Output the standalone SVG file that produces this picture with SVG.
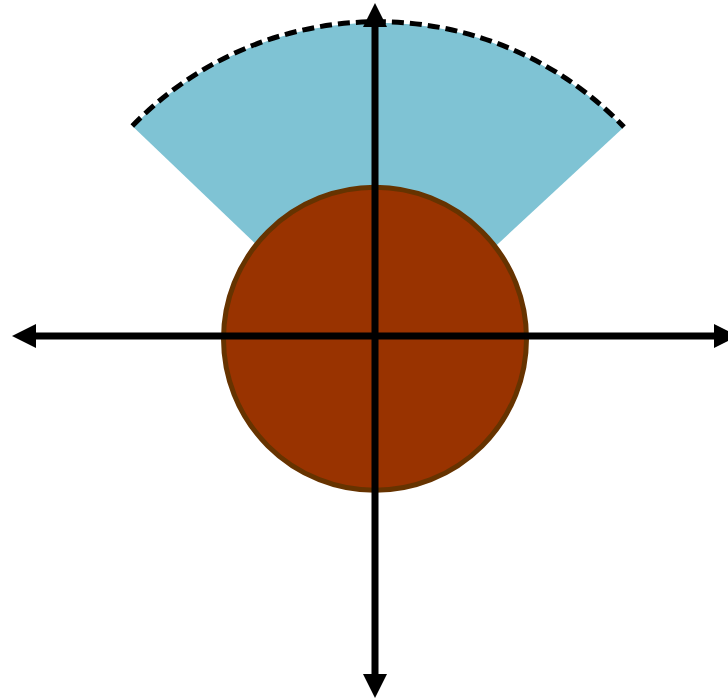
<svg xmlns="http://www.w3.org/2000/svg" width="728" height="699" viewBox="0 0 728 699">
<style>
.axis{stroke:#000;stroke-width:7;fill:none}
.head{fill:#000}
</style>
<defs>
<marker id="arr" viewBox="0 0 24 24" refX="0" refY="12" markerWidth="24" markerHeight="24" markerUnits="userSpaceOnUse" orient="auto">
<path class="head" d="M0,0 L24,12 L0,24 Z"/>
</marker>
</defs>
<rect width="728" height="699" fill="#fff"/>
<g id="sector">
<path d="M375,358 L132.3,126 A340.8 340.8 0 0 1 624,127 Z" fill="#7fc3d4"/>
<path d="M132.3,126 A340.8 340.8 0 0 1 624,127" fill="none" stroke="#fff" stroke-width="2"/>
<path d="M132.3,126 A340.8 340.8 0 0 1 624,127" fill="none" stroke="#000" stroke-width="5" stroke-dasharray="12,6"/>
</g>
<g id="planet">
<circle cx="375" cy="338.8" r="151.5" fill="#993300" stroke="#663300" stroke-width="5"/>
</g>
<g id="connectors">
<line class="axis" x1="375" y1="336" x2="36" y2="336" marker-end="url(#arr)"/>
<line class="axis" x1="375" y1="336" x2="714" y2="336" marker-end="url(#arr)"/>
<line class="axis" x1="375" y1="336" x2="375" y2="27" marker-end="url(#arr)"/>
<line class="axis" x1="375" y1="336" x2="375" y2="674" marker-end="url(#arr)"/>
</g>
</svg>
